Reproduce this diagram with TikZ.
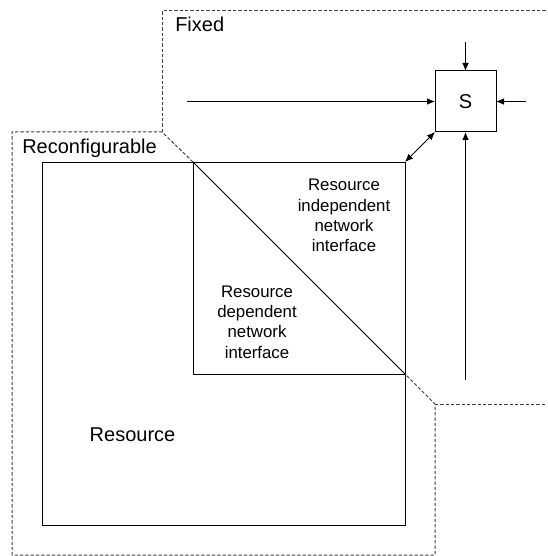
\documentclass[tikz,border=0pt]{standalone}
\usepackage{fontspec}
\setmainfont{Liberation Sans}
\usetikzlibrary{positioning,arrows.meta}

\tikzstyle{blk}=[rectangle, draw, line width=0.75pt, inner sep=0pt, outer sep=0pt]
\tikzstyle{lbl}=[inner sep=0pt, font=\fontsize{15}{18}\selectfont]
\tikzstyle{nlbl}=[inner sep=0pt, align=center, font=\fontsize{12.6}{15.2}\selectfont]
\tikzstyle{line}=[-, line width=0.75pt]
\tikzstyle{arr}=[-{Latex[length=6pt,width=5pt]}, line width=0.75pt]
\tikzstyle{darr}=[{Latex[length=6pt,width=5pt]}-{Latex[length=6pt,width=5pt]}, line width=0.75pt]
\tikzstyle{region}=[line width=0.75pt, dash pattern=on 2.5pt off 1.5pt, black!75]

\begin{document}
\begin{tikzpicture}[x=0.75pt, y=-0.75pt]
\useasboundingbox (0,0) rectangle (547,556);

% switch block
    \node (s) [blk, minimum size=45.75pt] at (465.5,101.5) {\fontsize{15}{18}\selectfont S};

% resource and network interface
    \node (res) [blk, minimum width=272.25pt, minimum height=272.25pt] at (223.5,343.5) {};
    \node (nif) [blk, minimum width=159pt, minimum height=159pt] at (299,268) {};
    \draw[line] (nif.north west) -- (nif.south east);

    \node (rin) [nlbl] at (344,215.5) {Resource\\independent\\network\\interface};
    \node (rdn) [nlbl] at (257,322) {Resource\\dependent\\network\\interface};
    \node (reslbl) [lbl] at (132.5,435) {Resource};

% fixed / reconfigurable regions
    \coordinate (fxc) at (162,132);
    \coordinate (fxb) at (435,404);
    \draw[region] (nif.north west) -- (fxc) -- (12,132) -- (12,555) -- (435,555) -- (fxb) -- (nif.south east);
    \draw[region] (fxc) -- (162,11) -- (547,11);
    \draw[region] (fxb) -- (547,404);

    \node (fixlbl) [lbl, anchor=base west] at (175,32) {Fixed};
    \node (reclbl) [lbl, anchor=base west] at (22,153) {Reconfigurable};

% links into the switch
    \coordinate (inw) at (187,101.5);
    \coordinate (ine) at (526,101.5);
    \coordinate (inn) at (465.5,42);
    \coordinate (ins) at (465.5,380);
    \draw[arr] (inw) -- (s.west);
    \draw[arr] (ine) -- (s.east);
    \draw[arr] (inn) -- (s.north);
    \draw[arr] (ins) -- (s.south);
    \draw[darr] (nif.north east) -- (s.south west);

\end{tikzpicture}
\end{document}
